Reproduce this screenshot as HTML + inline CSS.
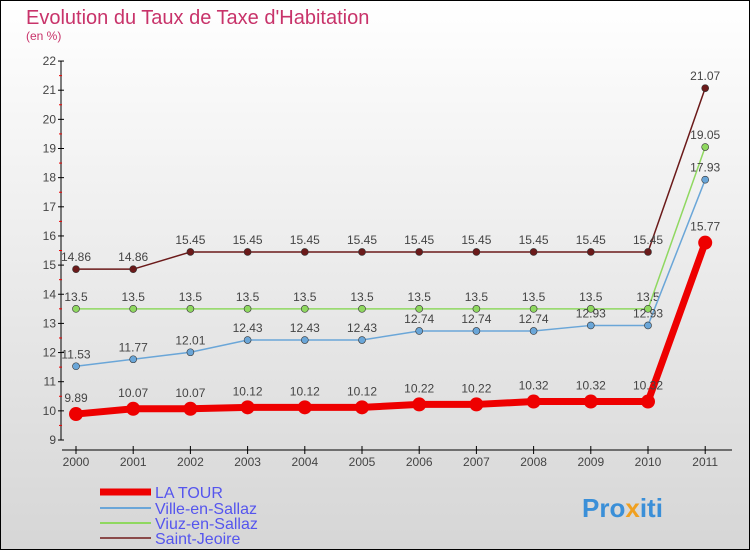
<!DOCTYPE html>
<html><head><meta charset="utf-8"><style>
body{margin:0;}
svg{display:block;font-family:"Liberation Sans",sans-serif;}
</style></head><body>
<svg id="c" width="750" height="550">
<defs><linearGradient id="bg" x1="0" y1="0" x2="0" y2="1"><stop offset="0" stop-color="#ffffff"/><stop offset="1" stop-color="#d6d6d6"/></linearGradient></defs>
<rect x="0.5" y="0.5" width="749" height="549" fill="url(#bg)" stroke="#000"/>
<text x="26" y="24" font-size="20" fill="#c8336a">Evolution du Taux de Taxe d'Habitation</text>
<text x="26" y="40" font-size="12" fill="#c8336a">(en %)</text>
<g id="axes"></g>
<g id="series"></g>
<g id="legend"></g>
<text x="582" y="517" font-size="26" font-weight="bold" fill="#3a8fd8">Pro<tspan fill="#f0a020">x</tspan>iti</text>
</svg>
<script>
const years=[2000,2001,2002,2003,2004,2005,2006,2007,2008,2009,2010,2011];
const yTicks=[9,10,11,12,13,14,15,16,17,18,19,20,21,22];
const laTour=[9.89,10.07,10.07,10.12,10.12,10.12,10.22,10.22,10.32,10.32,10.32,15.77];
const ville=[11.53,11.77,12.01,12.43,12.43,12.43,12.74,12.74,12.74,12.93,12.93,17.93];
const viuz=[13.5,13.5,13.5,13.5,13.5,13.5,13.5,13.5,13.5,13.5,13.5,19.05];
const saint=[14.86,14.86,15.45,15.45,15.45,15.45,15.45,15.45,15.45,15.45,15.45,21.07];
const seriesNames=["LA TOUR","Ville-en-Sallaz","Viuz-en-Sallaz","Saint-Jeoire"];
const NS="http://www.w3.org/2000/svg";
const X=i=>76+i*57.2;
const Y=v=>440-(v-9)*29.15;
function mk(tag,attrs,parent,txt){const e=document.createElementNS(NS,tag);for(const k in attrs)e.setAttribute(k,attrs[k]);if(txt!==undefined)e.textContent=txt;parent.appendChild(e);return e;}
const axes=document.getElementById('axes');
let ya=mk('line',{x1:61,y1:Y(22),x2:61,y2:Y(9),stroke:'#000'},axes);


yTicks.forEach(t=>{
  mk('line',{x1:58,y1:Y(t),x2:64,y2:Y(t),stroke:'#000'},axes);
  if(t<22)mk('line',{x1:59,y1:Y(t+0.5),x2:62,y2:Y(t+0.5),stroke:'#e00'},axes);
  let l=mk('text',{x:56,y:Y(t)+4,'font-size':12,fill:'#444','text-anchor':'end'},axes,t);
  
  
});
let xa=mk('line',{x1:62,y1:450,x2:732,y2:450,stroke:'#000'},axes);


years.forEach((y,i)=>{
  mk('line',{x1:X(i),y1:446,x2:X(i),y2:454,stroke:'#000'},axes);
  let l=mk('text',{x:X(i),y:466,'font-size':12,fill:'#444','text-anchor':'middle'},axes,y);
  
  
});
const sg=document.getElementById('series');
const defs=[
 {d:saint,c:'#6b1a1a',w:1.5,r:3.5,name:'saint-jeoire'},
 {d:viuz,c:'#8fd860',w:1.5,r:3.5,name:'viuz-en-sallaz'},
 {d:ville,c:'#6aa6d8',w:1.5,r:3.5,name:'ville-en-sallaz'},
 {d:laTour,c:'#ee0000',w:7,r:7,name:'la-tour'}];
defs.forEach(s=>{
  const g=mk('g',{},sg);
  
  
  const pts=s.d.map((v,i)=>X(i)+','+Y(v)).join(' ');
  let pl=mk('polyline',{points:pts,fill:'none',stroke:s.c,'stroke-width':s.w},g);
  
  
  s.d.forEach((v,i)=>{
    let p=mk('circle',{cx:X(i),cy:Y(v),r:s.r,fill:s.c,stroke:s.w>2?'none':'#333','stroke-width':0.6},g);
    
    
    let t=mk('text',{x:X(i),y:Y(v)-(s.w>2?12:8),'font-size':12,fill:'#444','text-anchor':'middle'},g,v);
    
    
  });
});
const lg=document.getElementById('legend');
const lc=['#ee0000','#6aa6d8','#8fd860','#8a4a4a'],lw=[7,2,2,2],ly=[492,508,523,538];
seriesNames.forEach((n,i)=>{
  const g=mk('g',{},lg);
  
  
  mk('line',{x1:100,y1:ly[i],x2:151,y2:ly[i],stroke:lc[i],'stroke-width':lw[i]},g);
  mk('text',{x:155,y:ly[i]+6,'font-size':16,fill:'#5555ee'},g,n);
});
</script>
</body></html>
